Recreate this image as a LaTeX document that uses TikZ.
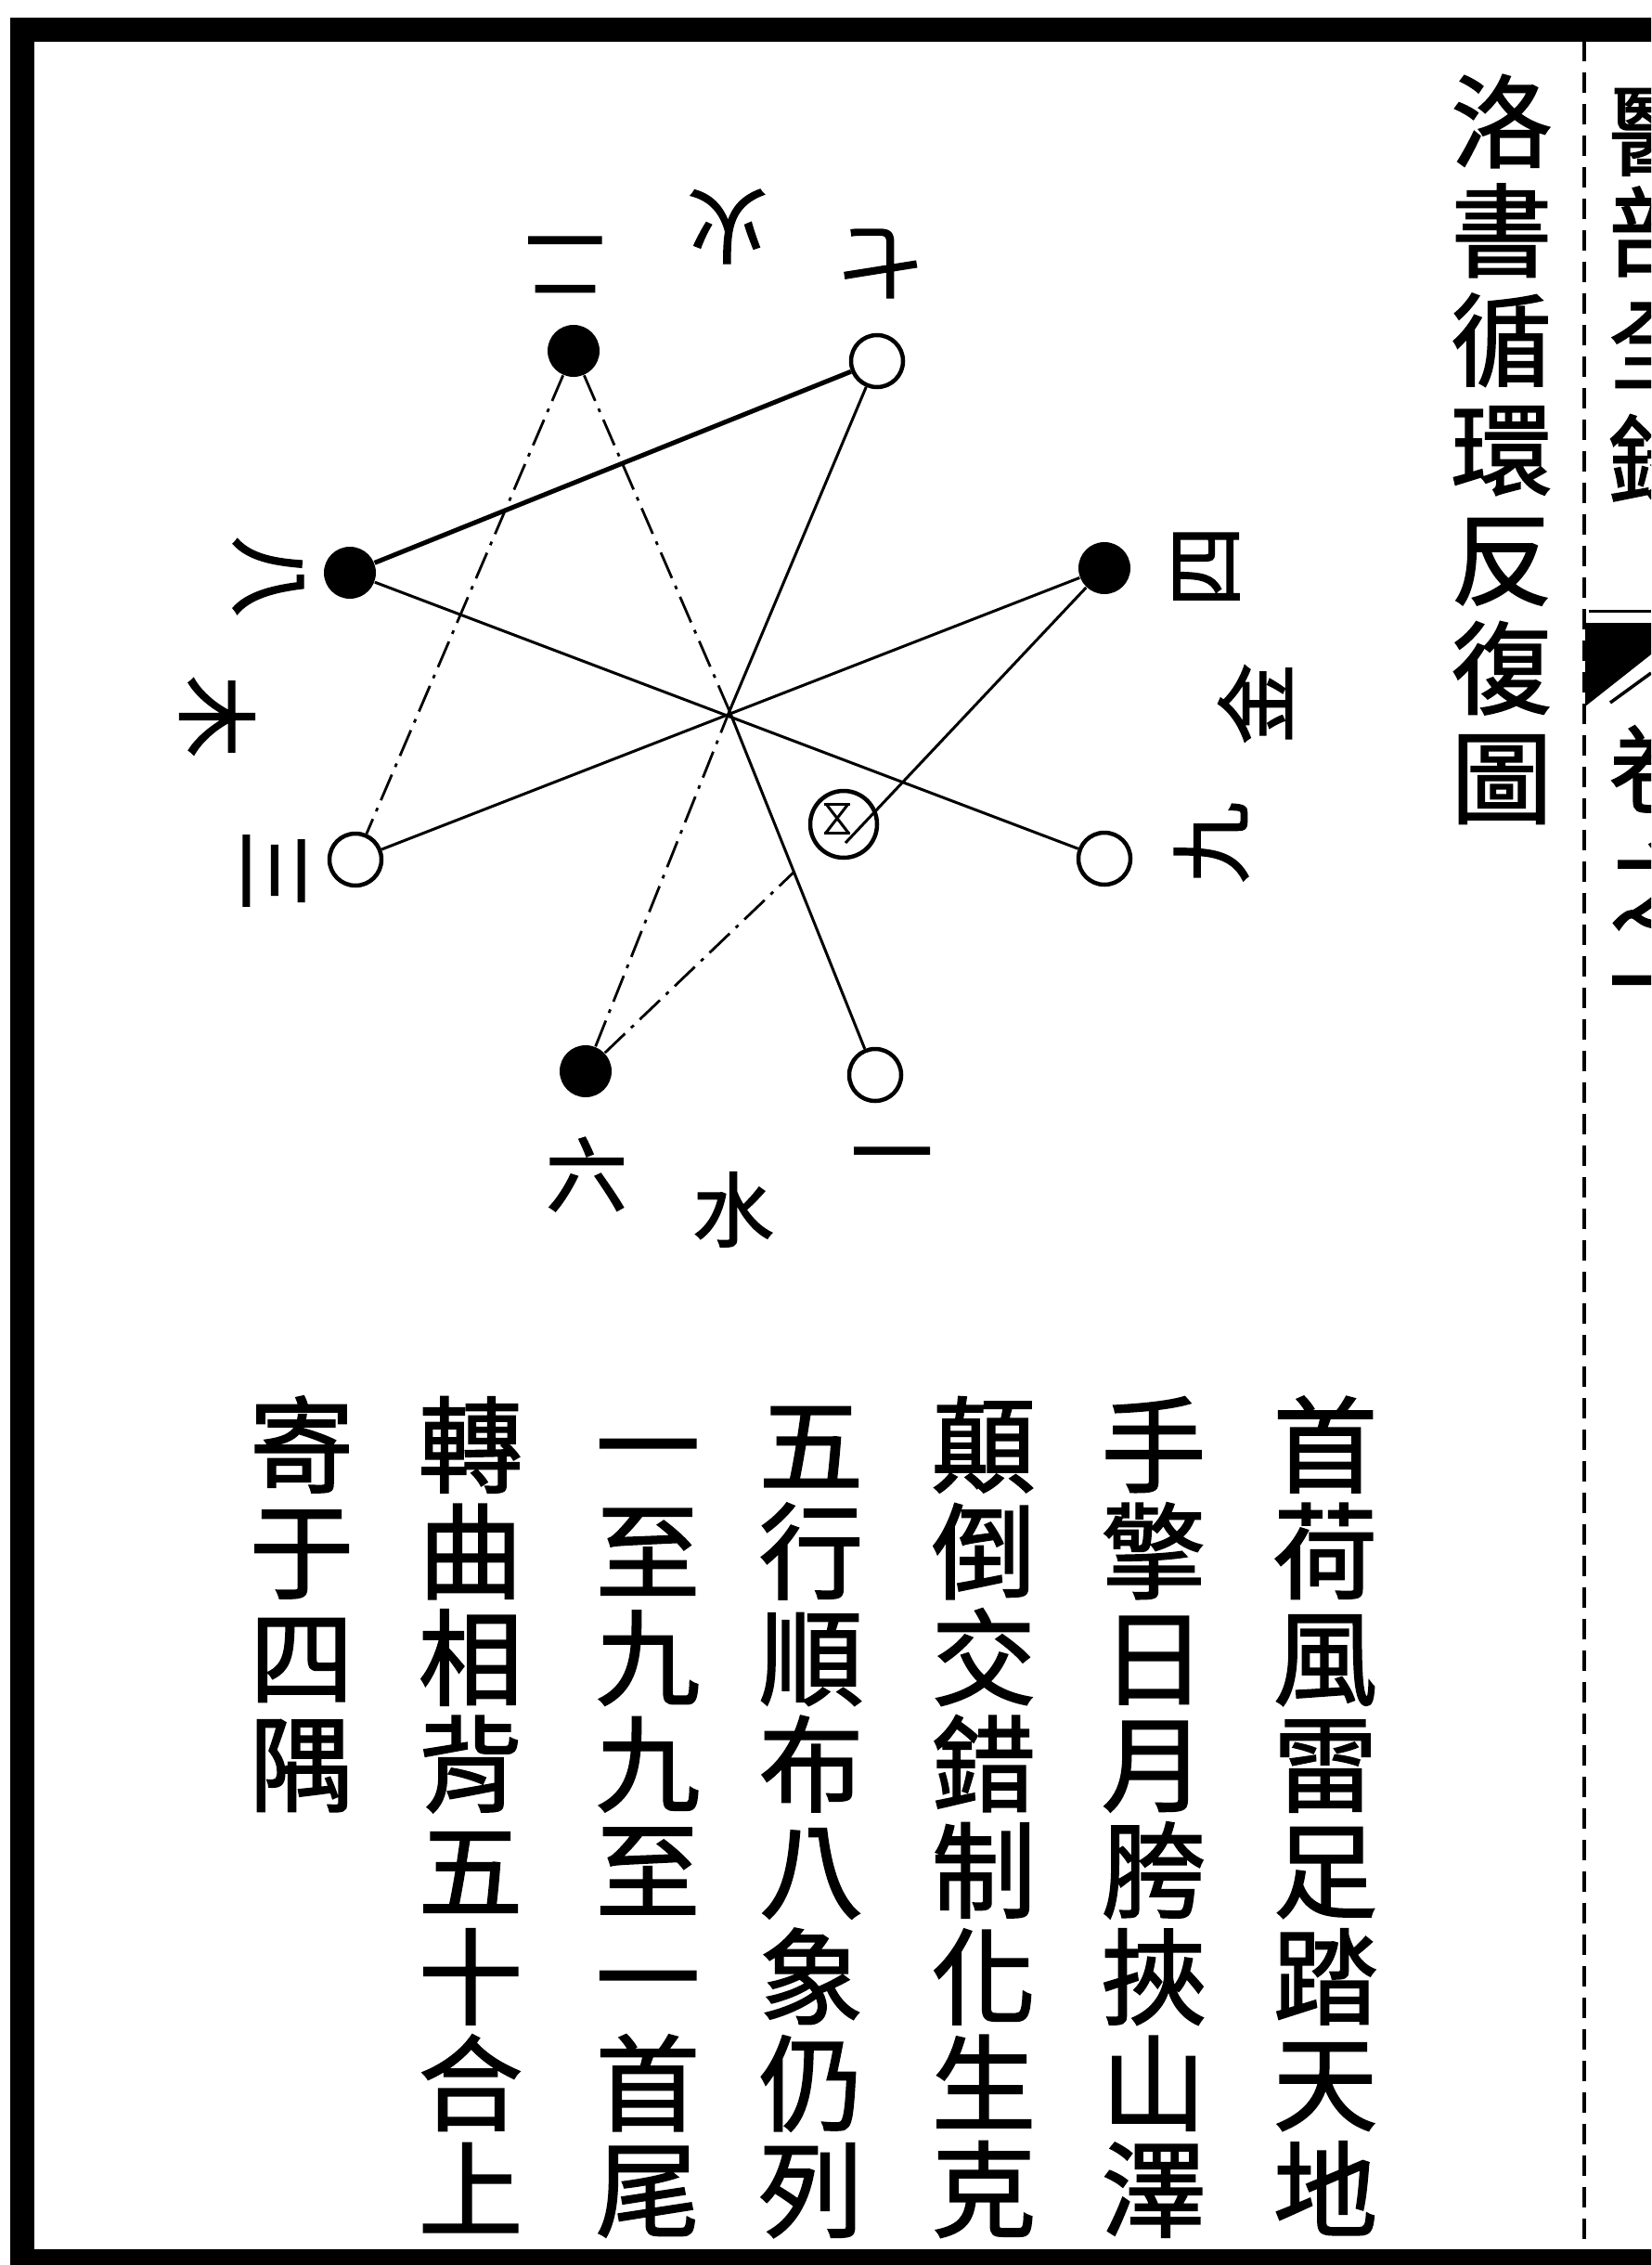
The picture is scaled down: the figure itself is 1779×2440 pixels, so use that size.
\documentclass[tikz,border=0pt]{standalone}
\usepackage{fontspec}
\newfontfamily\cjk[FakeBold=1.6,AutoFakeBold=1.6]{Noto Sans CJK TC}
\usetikzlibrary{positioning,calc}
\tikzset{
  yin/.style={circle, fill=black, minimum size=5.6mm, inner sep=0pt},
  yang/.style={circle, draw=black, line width=0.45mm, minimum size=5.6mm, inner sep=0pt},
  hub/.style={circle, draw=black, line width=0.45mm, minimum size=7.2mm, inner sep=0pt},
  wire/.style={line width=0.3mm},
  heavywire/.style={line width=0.5mm},
  brokenwire/.style={line width=0.28mm, dash pattern=on 3mm off 0.9mm on 0.4mm off 0.9mm},
  poemch/.style={font=\cjk\bfseries\fontsize{32}{32}\selectfont, inner sep=0pt, anchor=base},
  titlech/.style={font=\cjk\bfseries\fontsize{31}{31}\selectfont, inner sep=0pt, anchor=base},
  foldch/.style={font=\cjk\bfseries\fontsize{30}{30}\selectfont, inner sep=0pt, anchor=base},
  numlab/.style={font=\cjk\bfseries\fontsize{25}{25}\selectfont, inner sep=0pt}
}
\begin{document}
\begin{tikzpicture}[x=0.1mm,y=-0.1mm]
  \useasboundingbox (0,0) rectangle (1779,2440);
  \clip (0,0) rectangle (1779,2440);

  % page frame, fold line and fish tail
  \draw[line width=2.6mm] (24,32) rectangle (1820,2436);
  \draw[line width=0.4mm, dash pattern=on 2.2mm off 1.2mm] (1707,44) -- (1707,2423);
  \fill (1708,671) -- (1779,671) -- (1779,705) -- (1708,761) -- cycle;
  \draw[line width=0.35mm] (1735,757) -- (1779,725);
  \draw[line width=0.3mm] (1712,658) -- (1779,658);

  % text in the fold, cut by the page edge
  \foreach \ch/\fy [count=\r] in {醫/141,部/250,全/372,錄/495,卷/828,之/955}
    \node[foldch] (f\r) at ({1786},{\fy+40}) {\ch};
  \node[foldch] (f7) at (1786,1097) {一};

  % the nine points
  \node[yang] (n1) at (943,1158) {};
  \node[yin]  (n2) at (618,378) {};
  \node[yang] (n3) at (383,926) {};
  \node[yin]  (n4) at (1190,612) {};
  \node[hub]  (n5) at (909,888) {};
  \node[yin]  (n6) at (631,1154) {};
  \node[yang] (n7) at (945,389) {};
  \node[yin]  (n8) at (377,617) {};
  \node[yang] (n9) at (1190,925) {};
  \coordinate (c) at (786,766);
  \coordinate (k) at (intersection of n6--n5 and c--n1);
  \coordinate (n5tail) at ($(n5)+(2,20)$);

  % one to nine
  \draw[brokenwire] (n2) -- (c);
  \draw[wire] (c) -- (n1);
  \draw[brokenwire] (n2) -- (n3);
  \draw[wire] (n3) -- (n4);
  \draw[wire] (n4) -- (n5tail);
  \draw[brokenwire] (n6) -- (k);
  \draw[brokenwire] (n6) -- (c);
  \draw[wire] (c) -- (n7);
  \draw[heavywire] (n8) -- (n7);
  \draw[wire] (n8) -- (n9);
  % old five inside the centre ring
  \draw[wire] ($(n5)+(-21,-22)$) -- ($(n5)+(7,-22)$);
  \draw[wire] ($(n5)+(-21,9)$) -- ($(n5)+(7,9)$);
  \draw[wire] ($(n5)+(-19,-22)$) -- ($(n5)+(5,9)$);
  \draw[wire] ($(n5)+(5,-22)$) -- ($(n5)+(-19,9)$);

  % numbers and elements round the figure
  \node[numlab, rotate=180] (l2) at (609,284) {二};
  \node[numlab, rotate=180] (lfire) at (784,244) {火};
  \node[numlab, rotate=180] (l7) at (948,284) {七};
  \node[numlab, rotate=-90] (l8) at (289,621) {八};
  \node[numlab, rotate=-90] (lwood) at (234,772) {木};
  \node[numlab, rotate=-90] (l3) at (295,938) {三};
  \node[numlab, rotate=90] (l4) at (1300,610) {四};
  \node[numlab, rotate=90] (lmetal) at (1352,758) {金};
  \node[numlab, rotate=90] (l9) at (1305,908) {九};
  \node[numlab] (l6) at (632,1265) {六};
  \node[numlab] (lwater) at (790,1303) {水};
  \node[numlab] (l1) at (961,1255) {一};

  % title column
  \foreach \ch [count=\r] in {洛,書,循,環,反,復,圖}
    \node[titlech] (t\r) at ({1618},{172+117.8*(\r-1)}) {\ch};

  % verse, right to left
  \foreach \cx/\txt [count=\c] in {1428/{首,荷,風,雷,足,踏,天,地},1243/{手,擎,日,月,胯,挾,山,澤},
      1060/{顛,倒,交,錯,制,化,生,克},874/{五,行,順,布,八,象,仍,列},698/{一,至,九,九,至,一,首,尾},
      507/{轉,曲,相,背,五,十,合,上},325/{寄,于,四,隅}}
    \foreach \ch [count=\r] in \txt
      \node[poemch] (p\c-\r) at ({\cx},{1599+114.6*(\r-1)}) {\ch};
\end{tikzpicture}
\end{document}
